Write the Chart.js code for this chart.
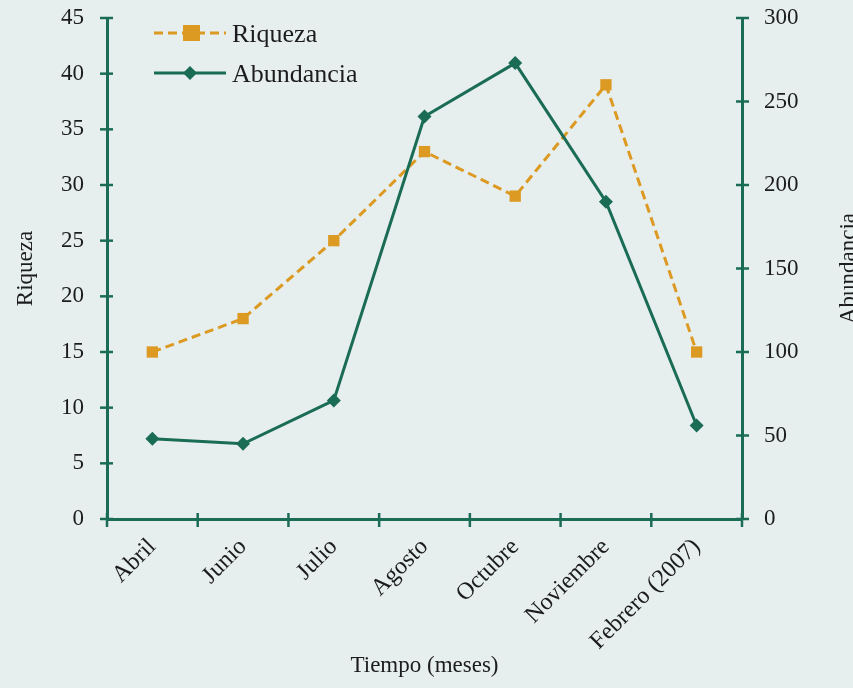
<!DOCTYPE html>
<html>
<head>
<meta charset="utf-8">
<script src="https://cdn.jsdelivr.net/npm/chart.js@4"></script>
<style>
html,body{margin:0;padding:0;background:#e6eeee;}
#wrap{width:853px;height:688px;position:relative;}
</style>
</head>
<body>
<div id="wrap"><canvas id="c" width="853" height="688"></canvas></div>
<script>
const categories = ["Abril","Junio","Julio","Agosto","Octubre","Noviembre","Febrero (2007)"];
const riqueza = [15, 18, 25, 33, 29, 39, 15];
const abundancia = [48, 45, 71, 241, 273, 190, 56];
const leftTicks = [0,5,10,15,20,25,30,35,40,45];
const rightTicks = [0,50,100,150,200,250,300];

const GREEN = '#1a6c55';
const ORANGE = '#dc9a22';
const TEXT = '#1c1c1c';
const FONT = "'Liberation Serif', 'DejaVu Serif', serif";

const crossTicks = {
  id:'crossTicks',
  afterDraw(chart){
    const ctx = chart.ctx, a = chart.chartArea;
    ctx.save();
    ctx.strokeStyle = GREEN; ctx.lineWidth = 2.5;
    const yl = chart.scales.y, yr = chart.scales.y1;
    yl.ticks.forEach((t,i)=>{const p=yl.getPixelForTick(i);ctx.beginPath();ctx.moveTo(a.left-7,p);ctx.lineTo(a.left+6,p);ctx.stroke();});
    yr.ticks.forEach((t,i)=>{const p=yr.getPixelForTick(i);ctx.beginPath();ctx.moveTo(a.right-6,p);ctx.lineTo(a.right+7,p);ctx.stroke();});
    const n = categories.length;
    for(let i=0;i<=n;i++){const p=a.left+i*(a.right-a.left)/n;ctx.beginPath();ctx.moveTo(p,a.bottom-6);ctx.lineTo(p,a.bottom+8);ctx.stroke();}
    // right axis title (reads bottom to top)
    ctx.save();
    ctx.translate(849,(a.top+a.bottom)/2);
    ctx.rotate(-Math.PI/2);
    ctx.fillStyle=TEXT;ctx.font="23px "+FONT;ctx.textAlign='center';ctx.textBaseline='middle';
    ctx.fillText('Abundancia',0,0);
    ctx.restore();
    // legend
    const items=[{ds:chart.data.datasets[0],y:33},{ds:chart.data.datasets[1],y:73}];
    items.forEach(it=>{
      const ds=it.ds;
      ctx.strokeStyle=ds.borderColor; ctx.lineWidth=ds.borderWidth;
      ctx.setLineDash(ds.borderDash||[]);
      ctx.beginPath();ctx.moveTo(154,it.y);ctx.lineTo(226,it.y);ctx.stroke();
      ctx.setLineDash([]);
      ctx.fillStyle=ds.pointBackgroundColor;
      if(ds.pointStyle==='rect'){ctx.fillRect(183,it.y-8,17,16);}
      else{ctx.beginPath();ctx.moveTo(190,it.y-7);ctx.lineTo(197,it.y);ctx.lineTo(190,it.y+7);ctx.lineTo(183,it.y);ctx.closePath();ctx.fill();}
      ctx.fillStyle=TEXT;ctx.font="26px "+FONT;ctx.textBaseline='middle';ctx.textAlign='left';
      ctx.fillText(ds.label,232,it.y+2);
    });
    ctx.restore();
  }
};

const bg = {id:'bg',beforeDraw(chart){const c=chart.ctx;c.save();c.fillStyle='#e6eeee';c.fillRect(0,0,chart.width,chart.height);c.restore();}};

function zeroPad(s){s.paddingTop=0;s.paddingBottom=0;s.paddingLeft=0;s.paddingRight=0;}

new Chart(document.getElementById('c'),{
  type:'line',
  data:{labels:categories,datasets:[
    {label:'Riqueza',data:riqueza,yAxisID:'y',borderColor:ORANGE,borderWidth:3,borderDash:[9,5],
     pointStyle:'rect',pointRadius:8,pointBackgroundColor:ORANGE,pointBorderColor:ORANGE,pointBorderWidth:0,tension:0,order:2},
    {label:'Abundancia',data:abundancia,yAxisID:'y1',borderColor:GREEN,borderWidth:3,
     pointStyle:'rectRot',pointRadius:7,pointBackgroundColor:GREEN,pointBorderColor:GREEN,pointBorderWidth:0,tension:0,order:1}
  ]},
  options:{
    responsive:false,animation:false,
    layout:{padding:{top:18,left:0,right:0,bottom:0}},
    plugins:{legend:{display:false},tooltip:{enabled:false}},
    scales:{
      x:{offset:true,grid:{display:false,offset:true},border:{display:true,color:GREEN,width:3},
        ticks:{color:TEXT,font:{family:FONT,size:24},minRotation:45,maxRotation:45,padding:6},
        title:{display:true,text:'Tiempo (meses)',color:TEXT,font:{family:FONT,size:23},padding:{top:0,bottom:8}},
        afterFit(s){s.height=169;zeroPad(s);}},
      y:{position:'left',min:0,max:45,grid:{display:false},border:{display:true,color:GREEN,width:3},
        afterBuildTicks(s){s.ticks=leftTicks.map(v=>({value:v}));},
        ticks:{color:TEXT,font:{family:FONT,size:23},padding:15},
        title:{display:true,text:'Riqueza',color:TEXT,font:{family:FONT,size:23},padding:{top:12,bottom:0}},
        afterFit(s){s.width=107;zeroPad(s);}},
      y1:{position:'right',min:0,max:300,grid:{display:false},border:{display:true,color:GREEN,width:3},
        afterBuildTicks(s){s.ticks=rightTicks.map(v=>({value:v}));},
        ticks:{color:TEXT,font:{family:FONT,size:23},padding:14},
        title:{display:false},
        afterFit(s){s.width=111;zeroPad(s);}}
    }
  },
  plugins:[bg,crossTicks]
});
</script>
</body>
</html>
